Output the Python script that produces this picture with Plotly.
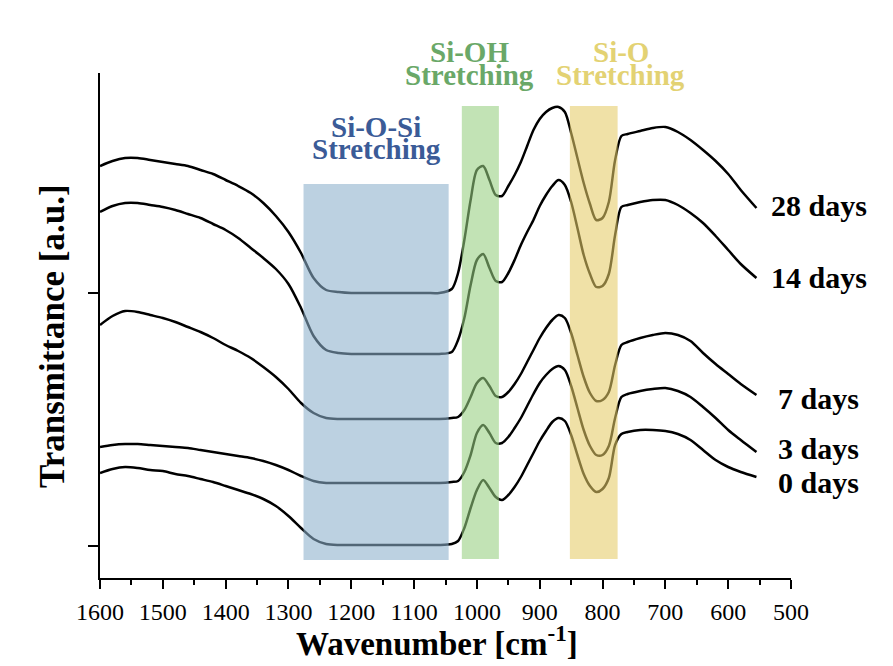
import plotly.graph_objects as go

# Wavenumber grid (cm^-1)
wavenumber = [1600, 1580, 1560, 1540, 1520, 1500, 1480, 1460, 1440, 1420, 1400, 1380, 1360,
              1340, 1320, 1300, 1280, 1260, 1240, 1220, 1200, 1180, 1160, 1140, 1120, 1100,
              1080, 1060, 1040,
              1030, 1020, 1010, 1000, 990, 980, 970, 960, 950, 940, 930, 920, 910, 900, 890,
              880, 870, 860, 850, 840, 830, 820, 810, 800, 790, 780, 770,
              760, 740, 720, 700, 680, 660, 640, 620, 600, 580, 555]

# Transmittance (a.u., offset spectra)
t_28 = [41.2, 41.7, 42.0, 42.0, 41.8, 41.6, 41.4, 41.2, 40.8, 40.4, 39.8, 39.2, 38.5,
        37.5, 36.2, 34.6, 32.5, 30.0, 28.8, 28.6, 28.5, 28.5, 28.5, 28.5, 28.5, 28.5,
        28.5, 28.5, 28.9,
        30.5, 33.8, 37.8, 40.8, 41.2, 39.8, 38.3, 38.2, 39.2, 40.3, 41.6, 43.2, 44.8, 45.9, 46.6,
        47.0, 47.1, 46.6, 44.5, 42.0, 39.5, 37.4, 35.8, 36.0, 37.6, 41.8, 44.2,
        44.4, 44.7, 45.0, 45.1, 44.6, 43.8, 42.8, 41.7, 40.4, 38.8, 37.0]
t_14 = [36.6, 37.2, 37.5, 37.5, 37.3, 37.1, 36.8, 36.4, 36.0, 35.4, 34.8, 34.0, 33.0,
        32.0, 30.9, 29.4, 27.0, 24.2, 22.8, 22.5, 22.4, 22.4, 22.4, 22.4, 22.4, 22.4,
        22.4, 22.4, 22.6,
        23.8, 26.0, 29.3, 31.8, 32.4, 31.0, 29.7, 29.6, 30.5, 31.8, 33.3, 34.6, 35.8, 37.2, 38.3,
        39.2, 39.8, 39.3, 37.6, 35.0, 32.3, 30.4, 29.1, 29.2, 30.4, 34.3, 37.1,
        37.3, 37.6, 37.8, 37.8, 37.3, 36.5, 35.5, 34.2, 32.8, 31.4, 30.0]
t_7 = [25.3, 26.2, 26.7, 26.6, 26.3, 26.0, 25.6, 25.1, 24.6, 24.0, 23.3, 22.7, 22.0,
       21.1, 20.1, 18.9, 17.5, 16.5, 16.0, 15.9, 15.9, 15.9, 15.9, 15.9, 15.9, 15.9,
       15.9, 15.9, 16.0,
       16.1, 16.8, 18.1, 19.5, 20.0, 19.2, 18.2, 18.1, 18.6, 19.4, 20.4, 21.6, 22.8, 24.0, 25.0,
       25.8, 26.3, 26.0, 24.5, 22.3, 20.1, 18.5, 17.7, 17.8, 18.6, 21.3, 23.3,
       23.6, 24.0, 24.3, 24.5, 24.3, 23.7, 22.5, 21.4, 20.4, 19.4, 18.3]
t_3 = [13.1, 13.3, 13.4, 13.4, 13.3, 13.2, 13.1, 13.0, 12.8, 12.6, 12.4, 12.2, 12.0,
       11.7, 11.3, 10.8, 10.2, 9.7, 9.5, 9.5, 9.5, 9.5, 9.5, 9.5, 9.5, 9.5,
       9.5, 9.5, 9.6,
       9.7, 10.6, 12.3, 14.5, 15.3, 14.5, 13.5, 13.5, 14.1, 15.0, 16.0, 17.2, 18.4, 19.5, 20.3,
       20.9, 21.2, 20.8, 19.2, 17.0, 14.8, 13.2, 12.3, 12.3, 13.2, 16.0, 18.1,
       18.4, 18.7, 18.9, 19.0, 18.7, 18.1, 17.1, 16.0, 14.8, 13.8, 12.6]
t_0 = [10.5, 10.9, 11.1, 11.0, 10.8, 10.7, 10.4, 10.2, 9.9, 9.6, 9.2, 8.8, 8.4,
       7.9, 7.2, 6.2, 5.0, 3.9, 3.4, 3.3, 3.3, 3.3, 3.3, 3.3, 3.3, 3.3,
       3.3, 3.3, 3.4,
       3.7, 5.0, 7.0, 8.8, 9.8, 9.0, 8.1, 7.8, 8.3, 9.1, 10.1, 11.3, 12.5, 13.7, 14.7,
       15.6, 16.0, 15.7, 14.3, 12.3, 10.4, 9.2, 8.6, 8.9, 10.0, 13.3, 14.4,
       14.6, 14.8, 14.8, 14.7, 14.4, 13.8, 12.8, 11.8, 11.1, 10.6, 10.1]

series_names = ["28 days", "14 days", "7 days", "3 days", "0 days"]
series_values = [t_28, t_14, t_7, t_3, t_0]
label_y = [37.3, 30.1, 18.0, 13.0, 9.6]

x_ticks = [1600, 1500, 1400, 1300, 1200, 1100, 1000, 900, 800, 700, 600, 500]
y_ticks = [3.2, 28.5]

# Highlighted bands: x0, x1, y0, y1, fill, text colour
bands = [
    (1276, 1045, 1.8, 39.4, "rgb(140,176,204)", "#3b5b97"),
    (1024, 965, 1.9, 47.2, "rgb(150,206,128)", "#6aa868"),
    (852, 776, 1.9, 47.2, "rgb(230,204,104)", "#e3d273"),
]

FONT = "Liberation Serif"

fig = go.Figure()
for name, vals in zip(series_names, series_values):
    fig.add_trace(go.Scatter(x=wavenumber, y=vals, mode="lines", name=name,
                             line=dict(color="black", width=2.5, shape="spline", smoothing=0.8),
                             showlegend=False))

for (x0, x1, y0, y1, fill, tcol) in bands:
    fig.add_shape(type="rect", xref="x", yref="y", x0=x0, x1=x1, y0=y0, y1=y1,
                  fillcolor=fill, opacity=0.58, line=dict(width=0), layer="above")


def label(text, x, y, xref, yref, size, color, angle=0):
    fig.add_annotation(text=text, x=x, y=y, xref=xref, yref=yref, showarrow=False,
                       xanchor="center", yanchor="middle", textangle=angle,
                       font=dict(family=FONT, size=size, color=color))


# Band labels
label("<b>Si-O-Si</b>", 1160, 45.1, "x", "y", 29, bands[0][5])
label("<b>Stretching</b>", 1160, 42.9, "x", "y", 29, bands[0][5])
label("<b>Si-OH</b>", 1012, 1.041, "x", "paper", 29, bands[1][5])
label("<b>Stretching</b>", 1012, 0.997, "x", "paper", 29, bands[1][5])
label("<b>Si-O</b>", 771, 1.041, "x", "paper", 29, bands[2][5])
label("<b>Stretching</b>", 771, 0.997, "x", "paper", 29, bands[2][5])

# Day labels
for name, ly in zip(series_names, label_y):
    label("<b>" + name + "</b>", 1.0405, ly, "paper", "y", 30, "black")

# Axis titles
label("<b>Wavenumber [cm<sup>-1</sup>]</b>", 0.488, -0.125, "paper", "paper", 33, "black")
label("<b>Transmittance [a.u.]</b>", -0.0695, 0.479, "paper", "paper", 35, "black", -90)

fig.update_xaxes(range=[1600, 500], tickvals=x_ticks, ticktext=[str(v) for v in x_ticks],
                 ticks="outside", ticklen=9, tickwidth=1.5, tickcolor="black",
                 minor=dict(dtick=50, tick0=500, ticks="outside", ticklen=5, tickwidth=1.5,
                            tickcolor="black", showgrid=False),
                 showline=True, linecolor="black", linewidth=2, mirror=False,
                 showgrid=False, zeroline=False, ticklabelstandoff=2,
                 tickfont=dict(family=FONT, size=24, color="black"))
fig.update_yaxes(range=[0, 50.5], tickvals=y_ticks, ticktext=["", ""],
                 ticks="outside", ticklen=10, tickwidth=1.5, tickcolor="black",
                 showline=True, linecolor="black", linewidth=2,
                 showgrid=False, zeroline=False)

# the page body adds an 8px offset, so the figure is sized to keep the plot area in place
fig.update_layout(width=885, height=658,
                  margin=dict(l=92, r=102, t=65, b=88),
                  paper_bgcolor="white", plot_bgcolor="white",
                  font=dict(family=FONT))

fig.write_html("out.html")
